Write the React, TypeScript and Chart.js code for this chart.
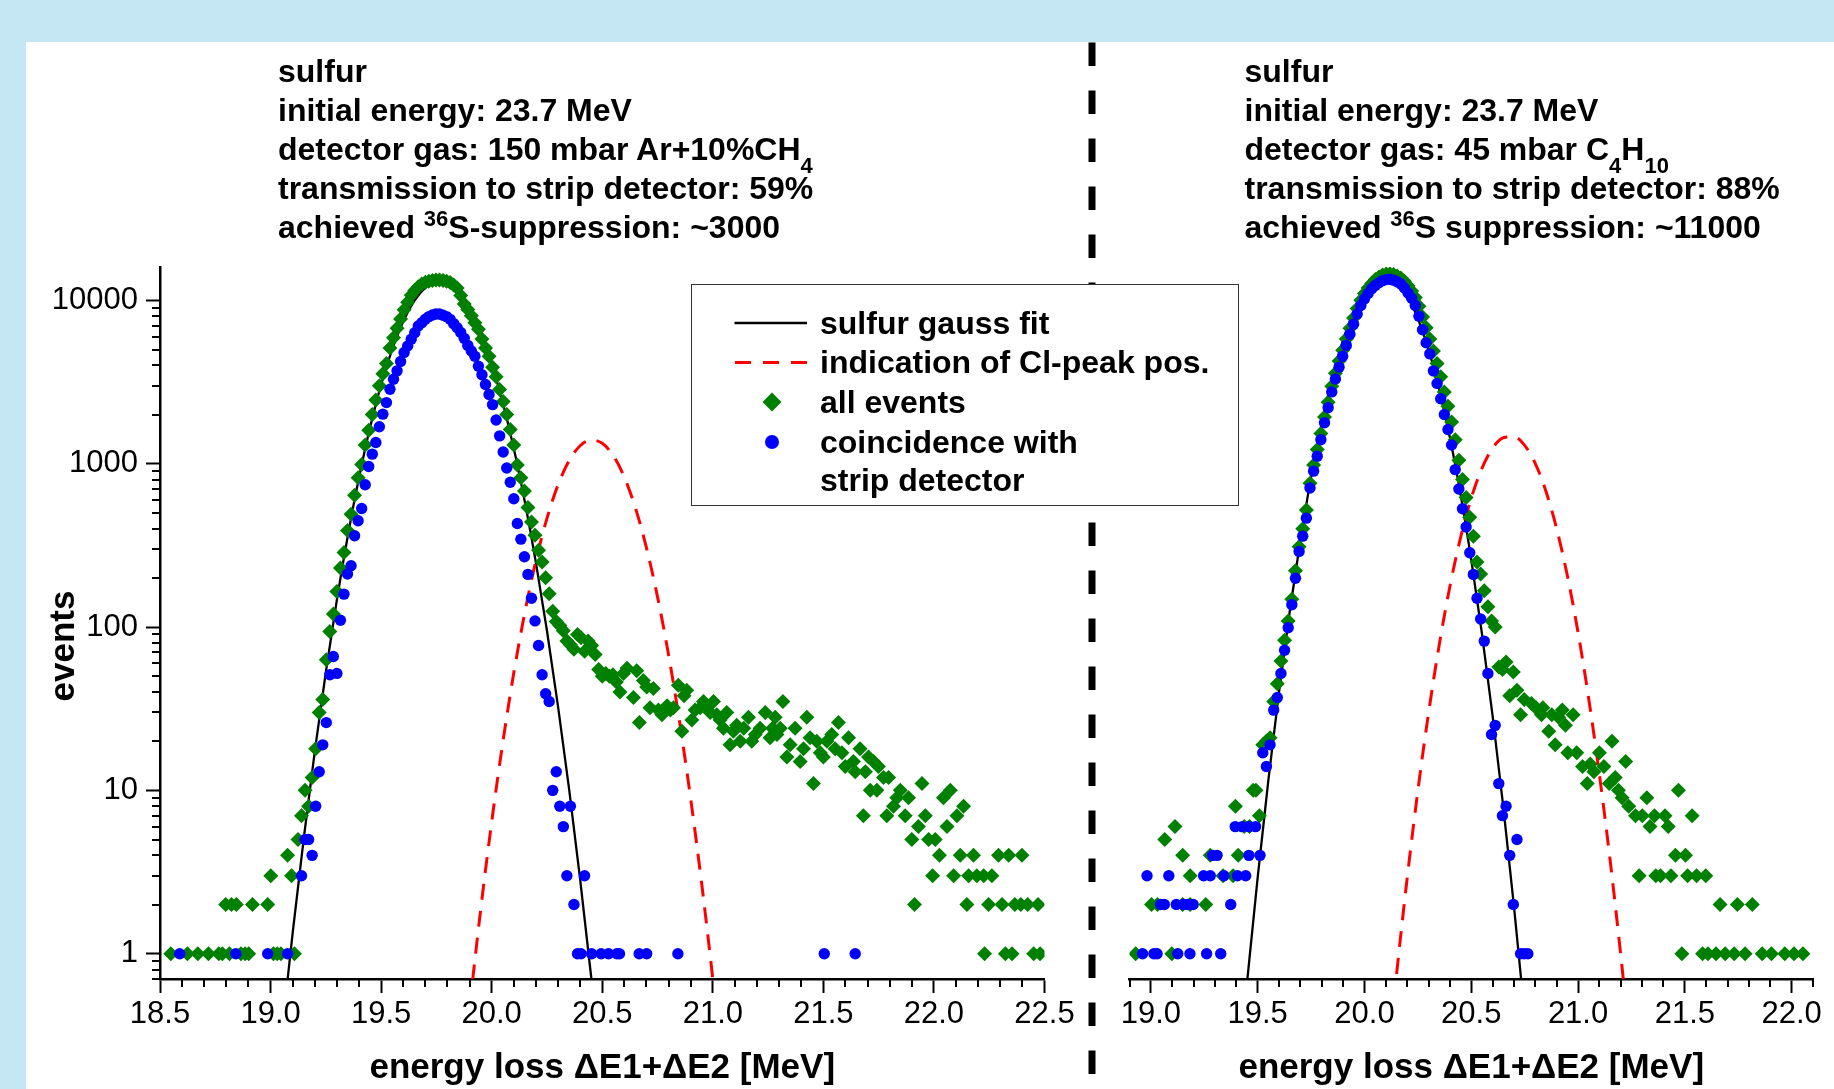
import React, { useEffect, useRef } from 'react';
import { Chart, registerables } from 'chart.js';

Chart.register(...registerables);

const FONT = '"Liberation Sans", Arial, Helvetica, sans-serif';
const GREEN = '#008000';
const BLUE = '#0000ff';
const RED = '#ff0000';

// ---------------- axes ----------------
const Y_MIN = 0.7;
const Y_MAX = 16000;
const Y_TICKS = [1, 10, 100, 1000, 10000];
const LEFT_X_RANGE = [18.5, 22.5];
const RIGHT_X_RANGE = [18.9, 22.1];
const X_MAJOR_STEP = 0.5;
const X_MINOR_STEP = 0.1;

// ---------------- LEFT panel (150 mbar Ar+10%CH4) ----------------
const LEFT_BIN_START = 19.108;
const LEFT_BIN = 0.016;
// all events, contiguous bins starting at LEFT_BIN_START
const leftAllPeak = [
  1, 5, 7, 10, 8, 12, 18, 30, 36, 63,
  94, 120, 165, 230, 286, 390, 490, 640, 820, 990,
  1300, 1600, 2000, 2450, 3000, 3550, 4100, 5100, 5900, 6750,
  7700, 8750, 9750, 10750, 11500, 12100, 12600, 12900, 13100, 13250,
  13300, 13300, 13250, 13100, 12850, 12400, 11900, 10700, 9500, 8800,
  8050, 7300, 6650, 5800, 5100, 4550, 3900, 3400, 2850, 2400,
  2000, 1620, 1300, 980, 820, 680, 540, 440, 365, 295,
  250, 200, 160, 125, 108, 102, 95, 82, 78, 73,
  90, 86, 71, 82, 77, 68, 55, 50, 52, 50,
  51, 46, 40, 52, 56,
];
const leftAllLow = [
  [18.549, 1], [18.624, 1], [18.671, 1], [18.719, 1], [18.766, 1], [18.782, 1], [18.814, 1],
  [18.866, 1], [18.885, 1], [18.901, 1], [19.013, 1], [19.030, 1], [19.047, 1],
  [18.797, 2], [18.823, 2], [18.845, 2], [18.918, 2], [18.987, 2],
  [19.001, 3], [19.095, 3], [19.077, 4],
];
const leftAllTail = [
  [20.641, 37], [20.656, 54], [20.668, 26], [20.686, 47], [20.701, 43], [20.716, 32], [20.731, 42],
  [20.754, 31], [20.770, 29], [20.793, 33], [20.808, 31], [20.822, 32], [20.844, 44], [20.860, 23],
  [20.870, 38], [20.882, 41], [20.905, 27], [20.920, 31], [20.943, 32], [20.958, 35], [20.973, 33],
  [20.988, 30], [21.003, 35], [21.018, 29], [21.033, 27], [21.048, 24], [21.063, 30], [21.078, 19],
  [21.093, 23], [21.108, 25], [21.124, 20], [21.140, 24], [21.161, 28], [21.176, 20], [21.192, 22],
  [21.214, 24], [21.237, 30], [21.259, 21], [21.270, 24], [21.282, 28], [21.290, 22], [21.305, 24],
  [21.317, 35], [21.335, 16], [21.350, 19], [21.372, 24], [21.395, 15], [21.410, 18], [21.425, 28],
  [21.440, 21], [21.455, 11], [21.470, 20], [21.486, 17], [21.500, 16], [21.516, 20], [21.538, 22],
  [21.553, 18], [21.568, 26], [21.584, 17], [21.599, 14], [21.614, 21], [21.636, 15], [21.644, 13],
  [21.666, 18], [21.681, 7], [21.690, 13], [21.704, 16], [21.712, 10], [21.727, 15], [21.742, 10],
  [21.749, 14], [21.772, 12], [21.787, 7], [21.795, 12], [21.817, 8], [21.832, 9], [21.848, 10],
  [21.870, 7], [21.885, 9], [21.900, 5], [21.912, 2], [21.930, 6], [21.946, 11], [21.961, 7],
  [21.976, 5], [21.994, 3], [22.006, 5], [22.025, 4], [22.043, 9], [22.059, 6], [22.074, 10],
  [22.089, 3], [22.104, 7], [22.119, 4], [22.134, 8], [22.149, 2], [22.157, 3], [22.179, 4],
  [22.194, 3], [22.225, 3], [22.229, 1], [22.247, 2], [22.262, 3], [22.292, 4], [22.308, 2],
  [22.323, 1], [22.338, 4], [22.353, 1], [22.366, 2], [22.393, 2], [22.398, 4], [22.424, 2],
  [22.451, 1], [22.471, 2], [22.480, 1],
];
// coincidence with strip detector
const leftCoincPeak = [
  0, 0, 3, 5, 5, 4, 8, 13, 19, 26,
  51, 66, 52, 110, 159, 211, 237, 362, 447, 532,
  743, 961, 1144, 1347, 1682, 2010, 2366, 2857, 3290, 3700,
  4220, 4790, 5260, 5780, 6340, 6970, 7300, 7660, 7950, 8140,
  8250, 8250, 8100, 7950, 7650, 7200, 6800, 6350, 5850, 5300,
  4900, 4550, 3950, 3500, 3050, 2650, 2300, 1850, 1480, 1180,
  940, 770, 610, 430, 345, 269, 210, 150, 109, 77,
  51, 39, 35, 10, 13, 8, 6, 3, 8, 2,
  1, 1, 3, 0, 1,
];
const leftCoincSparse = [
  [18.589, 1], [18.843, 1], [18.987, 1], [19.077, 1],
  [20.495, 1], [20.528, 1], [20.566, 1], [20.578, 1], [20.667, 1], [20.701, 1],
  [20.842, 1], [21.504, 1], [21.644, 1],
];
// sulfur gauss fit
const leftGaussFit = [
  [19.05, 0.32], [19.10, 1.34], [19.15, 5.06], [19.20, 17.3], [19.25, 53.0], [19.30, 147],
  [19.35, 366], [19.40, 822], [19.45, 1667], [19.50, 3048], [19.55, 5012], [19.60, 7430],
  [19.65, 9910], [19.70, 11940], [19.75, 12940], [19.80, 12650], [19.85, 11140], [19.90, 8850],
  [19.95, 6320], [20.00, 4070], [20.05, 2366], [20.10, 1239], [20.15, 583], [20.20, 248],
  [20.25, 94.8], [20.30, 32.7], [20.35, 10.2], [20.40, 2.85], [20.45, 0.72], [20.50, 0.164],
];
// indication of Cl-peak position
const leftClPeak = [
  [19.90, 0.47], [19.95, 1.85], [20.00, 6.41], [20.05, 19.5], [20.10, 52.4], [20.15, 123],
  [20.20, 255], [20.25, 463], [20.30, 741], [20.35, 1042], [20.40, 1288], [20.45, 1396],
  [20.50, 1334], [20.55, 1119], [20.60, 826], [20.65, 536], [20.70, 305], [20.75, 153],
  [20.80, 67.5], [20.85, 26.1], [20.90, 8.87], [20.95, 2.66], [21.00, 0.70], [21.05, 0.16],
];

// ---------------- RIGHT panel (45 mbar C4H10) ----------------
const RIGHT_BIN_START = 19.524;
const RIGHT_BIN = 0.017;
const rightAllPeak = [
  19, 20, 21, 35, 45, 62, 83, 109, 148, 221,
  310, 400, 520, 760, 980, 1220, 1530, 1930, 2380, 2980,
  3580, 4250, 4950, 5800, 6750, 7800, 8900, 10000, 11000, 11900,
  12700, 13400, 13900, 14300, 14500, 14550, 14400, 14100, 13700, 13100,
  12300, 11400, 10400, 9200, 7900, 6800, 5800, 4900, 4100, 3400,
  2750, 2250, 1800, 1400, 1050, 800, 620, 470, 360, 250,
  211, 167, 133, 109, 100, 57, 55, 61, 38, 53,
  41, 29, 36,
];
const rightAllLow = [
  [18.929, 1], [19.098, 1],
  [19.003, 2], [19.031, 2], [19.149, 2], [19.184, 2], [19.257, 2],
  [19.184, 3], [19.338, 3], [19.385, 3],
  [19.149, 4], [19.278, 4], [19.409, 4],
  [19.065, 5], [19.113, 6], [19.437, 6], [19.462, 6],
  [19.508, 7], [19.396, 8], [19.479, 10], [19.492, 10],
];
const rightAllTail = [
  [20.782, 34], [20.803, 32], [20.829, 29], [20.835, 32], [20.863, 23], [20.877, 29], [20.893, 19],
  [20.909, 28], [20.926, 31], [20.941, 25], [20.952, 17], [20.977, 29], [20.994, 17], [21.021, 14],
  [21.043, 11], [21.057, 14.5], [21.074, 13], [21.100, 17], [21.121, 14], [21.146, 11], [21.159, 20],
  [21.174, 12], [21.189, 10], [21.206, 9], [21.223, 15], [21.237, 8], [21.269, 7], [21.286, 3],
  [21.301, 7], [21.322, 9], [21.337, 6], [21.358, 7], [21.364, 3], [21.386, 3], [21.407, 7],
  [21.422, 6], [21.435, 3], [21.456, 4], [21.470, 10], [21.486, 1], [21.503, 4], [21.513, 3],
  [21.534, 7], [21.555, 3], [21.583, 1], [21.598, 3], [21.608, 1], [21.646, 1], [21.665, 2],
  [21.689, 1], [21.731, 1], [21.746, 2], [21.782, 1], [21.816, 2], [21.862, 1], [21.905, 1],
  [21.968, 1], [22.011, 1], [22.053, 1],
];
const rightCoincPeak = [
  17, 14, 19, 31, 37, 52, 72, 99, 137, 199,
  290, 360, 464, 710, 900, 1110, 1400, 1780, 2200, 2750,
  3300, 3900, 4550, 5300, 6200, 7150, 8250, 9300, 10200, 11000,
  11800, 12350, 12800, 13200, 13400, 13450, 13300, 13000, 12600, 11900,
  11100, 10300, 9300, 8000, 6600, 5500, 4700, 3700, 3100, 2500,
  2000, 1620, 1300, 920, 700, 530, 410, 285, 210, 150,
  112, 82, 52, 22, 25, 11, 7, 8, 4, 2,
  5, 1, 1, 1,
];
const rightCoincLow = [
  [18.961, 1], [19.014, 1], [19.029, 1], [19.126, 1], [19.183, 1], [19.261, 1], [19.327, 1],
  [19.046, 2], [19.063, 2], [19.119, 2], [19.152, 2], [19.173, 2], [19.198, 2], [19.374, 2],
  [18.982, 3], [19.084, 3], [19.247, 3], [19.278, 3], [19.342, 3], [19.405, 3], [19.444, 3],
  [19.289, 4], [19.310, 4], [19.459, 4], [19.511, 4],
  [19.395, 6], [19.427, 6], [19.459, 6], [19.490, 6],
];
const rightGaussFit = [
  [19.40, 0.13], [19.45, 0.66], [19.50, 2.92], [19.55, 11.5], [19.60, 40.0], [19.65, 124],
  [19.70, 339], [19.75, 822], [19.80, 1770], [19.85, 3373], [19.90, 5715], [19.95, 8551],
  [20.00, 11376], [20.05, 13397], [20.10, 13996], [20.15, 12974], [20.20, 10641], [20.25, 7727],
  [20.30, 4989], [20.35, 2851], [20.40, 1445], [20.45, 649], [20.50, 258], [20.55, 91.2],
  [20.60, 28.6], [20.65, 7.93], [20.70, 1.95], [20.75, 0.42], [20.80, 0.082],
];
const rightClPeak = [
  [20.10, 0.165], [20.15, 0.74], [20.20, 2.90], [20.25, 9.94], [20.30, 29.7], [20.35, 77.6],
  [20.40, 177], [20.45, 353], [20.50, 615], [20.55, 935], [20.60, 1245], [20.65, 1442],
  [20.70, 1462], [20.75, 1295], [20.80, 1002], [20.85, 676], [20.90, 399], [20.95, 206],
  [21.00, 92.7], [21.05, 36.4], [21.10, 12.5], [21.15, 3.75], [21.20, 0.98], [21.25, 0.225],
];

// ---------------- helpers ----------------
const fromBins = (start: number, step: number, vals: number[]) =>
  vals
    .map((v, i) => ({ x: +(start + i * step).toFixed(3), y: v > 0 ? v : null }))
    .filter((p) => p.y !== null);
const fromPairs = (pairs: number[][]) => pairs.map(([x, y]) => ({ x, y }));

const minorTicksPlugin = {
  id: 'minorTicks',
  afterDraw(chart: any, _args: any, opts: any) {
    const { ctx, chartArea: area } = chart;
    const xs = chart.scales.x;
    const ys = chart.scales.y;
    ctx.save();
    ctx.strokeStyle = '#000';
    ctx.lineWidth = 2;
    ctx.beginPath();
    const k0 = Math.ceil(xs.min / X_MINOR_STEP - 1e-6);
    const k1 = Math.floor(xs.max / X_MINOR_STEP + 1e-6);
    const ratio = Math.round(X_MAJOR_STEP / X_MINOR_STEP);
    for (let k = k0; k <= k1; k++) {
      if (k % ratio === 0) continue;
      const px = Math.round(xs.getPixelForValue(k * X_MINOR_STEP));
      ctx.moveTo(px, area.bottom);
      ctx.lineTo(px, area.bottom + 8);
    }
    if (opts && opts.yMinor) {
      for (let e = -1; e <= 4; e++) {
        for (let m = 2; m <= 9; m++) {
          const v = m * Math.pow(10, e);
          if (v <= ys.min || v >= ys.max) continue;
          const py = Math.round(ys.getPixelForValue(v));
          ctx.moveTo(area.left - 8, py);
          ctx.lineTo(area.left, py);
        }
      }
    }
    ctx.stroke();
    ctx.restore();
  },
};

function makeConfig(xRange: number[], showY: boolean, padding: any, sets: any) {
  return {
    type: 'scatter',
    data: {
      datasets: [
        {
          label: 'coincidence with strip detector',
          data: sets.blue,
          pointStyle: 'circle',
          pointRadius: 5.7,
          pointBackgroundColor: BLUE,
          backgroundColor: BLUE,
          pointBorderWidth: 0,
          borderWidth: 0,
          order: 1,
        },
        {
          label: 'all events',
          data: sets.green,
          pointStyle: 'rectRot',
          pointRadius: 7.5,
          pointBackgroundColor: GREEN,
          backgroundColor: GREEN,
          pointBorderWidth: 0,
          borderWidth: 0,
          order: 2,
        },
        {
          label: 'indication of Cl-peak pos.',
          data: sets.red,
          showLine: true,
          borderColor: RED,
          borderWidth: 3,
          borderDash: [16, 11],
          pointRadius: 0,
          cubicInterpolationMode: 'monotone',
          clip: 0,
          order: 3,
        },
        {
          label: 'sulfur gauss fit',
          data: sets.black,
          showLine: true,
          borderColor: '#000',
          borderWidth: 2.3,
          pointRadius: 0,
          cubicInterpolationMode: 'monotone',
          clip: 0,
          order: 4,
        },
      ],
    },
    options: {
      responsive: false,
      animation: false,
      devicePixelRatio: 1,
      events: [],
      layout: { padding },
      plugins: {
        legend: { display: false },
        tooltip: { enabled: false },
        minorTicks: { yMinor: showY },
      },
      scales: {
        x: {
          type: 'linear',
          position: 'bottom',
          min: xRange[0],
          max: xRange[1],
          afterFit: (s: any) => {
            s.height = 110;
          },
          ticks: {
            stepSize: X_MAJOR_STEP,
            includeBounds: false,
            autoSkip: false,
            maxRotation: 0,
            minRotation: 0,
            padding: 3,
            color: '#000',
            font: { family: FONT, size: 31 },
            callback: (v: any) => Number(v).toFixed(1),
          },
          grid: {
            drawOnChartArea: false,
            drawTicks: true,
            tickLength: 14,
            tickWidth: 2,
            tickColor: '#000',
          },
          border: { display: true, color: '#000', width: 2.5 },
          title: {
            display: true,
            text: 'energy loss \u0394E1+\u0394E2 [MeV]',
            color: '#000',
            font: { family: FONT, size: 35, weight: 'bold', lineHeight: 1.2 },
            padding: { top: 0, bottom: 0 },
          },
        },
        y: {
          type: 'logarithmic',
          position: 'left',
          display: showY,
          min: Y_MIN,
          max: Y_MAX,
          afterFit: (s: any) => {
            s.width = showY ? 160 : 0;
          },
          afterBuildTicks: (s: any) => {
            s.ticks = Y_TICKS.map((v) => ({ value: v, major: true }));
          },
          ticks: {
            autoSkip: false,
            padding: 8,
            color: '#000',
            font: { family: FONT, size: 31 },
            callback: (v: any) => String(Math.round(Number(v))),
          },
          grid: {
            drawOnChartArea: false,
            drawTicks: true,
            tickLength: 14,
            tickWidth: 2,
            tickColor: '#000',
          },
          border: { display: true, color: '#000', width: 2.5 },
        },
      },
    },
    plugins: [minorTicksPlugin],
  };
}

const textLine: React.CSSProperties = {
  height: 39,
  lineHeight: '39px',
  whiteSpace: 'nowrap',
};
const sup: React.CSSProperties = { fontSize: 22, position: 'relative', top: -12 };
const sub: React.CSSProperties = { fontSize: 22, position: 'relative', top: 13 };

function Annotation({ left, lines }: { left: number; lines: React.ReactNode[] }) {
  return (
    <div
      style={{
        position: 'absolute',
        left,
        top: 52,
        fontFamily: FONT,
        fontWeight: 'bold',
        fontSize: 32,
        color: '#000',
      }}
    >
      {lines.map((l, i) => (
        <div key={i} style={textLine}>
          {l}
        </div>
      ))}
    </div>
  );
}

const legendText: React.CSSProperties = {
  position: 'absolute',
  left: 128,
  fontFamily: FONT,
  fontWeight: 'bold',
  fontSize: 32,
  lineHeight: '32px',
  height: 32,
  whiteSpace: 'nowrap',
  color: '#000',
};

export default function App() {
  const leftRef = useRef<HTMLCanvasElement>(null);
  const rightRef = useRef<HTMLCanvasElement>(null);

  useEffect(() => {
    document.body.style.margin = '0';
    document.body.style.overflow = 'hidden';
    const leftSets = {
      blue: [...fromBins(LEFT_BIN_START, LEFT_BIN, leftCoincPeak), ...fromPairs(leftCoincSparse)],
      green: [
        ...fromPairs(leftAllLow),
        ...fromBins(LEFT_BIN_START, LEFT_BIN, leftAllPeak),
        ...fromPairs(leftAllTail),
      ],
      red: fromPairs(leftClPeak),
      black: fromPairs(leftGaussFit),
    };
    const rightSets = {
      blue: [...fromPairs(rightCoincLow), ...fromBins(RIGHT_BIN_START, RIGHT_BIN, rightCoincPeak)],
      green: [
        ...fromPairs(rightAllLow),
        ...fromBins(RIGHT_BIN_START, RIGHT_BIN, rightAllPeak),
        ...fromPairs(rightAllTail),
      ],
      red: fromPairs(rightClPeak),
      black: fromPairs(rightGaussFit),
    };
    const left = new Chart(
      leftRef.current as HTMLCanvasElement,
      makeConfig(LEFT_X_RANGE, true, { left: 0, right: 789.5, top: 267, bottom: 0 }, leftSets) as any
    );
    const right = new Chart(
      rightRef.current as HTMLCanvasElement,
      makeConfig(RIGHT_X_RANGE, false, { left: 1129.5, right: 21, top: 267, bottom: 0 }, rightSets) as any
    );
    return () => {
      left.destroy();
      right.destroy();
    };
  }, []);

  return (
    <div
      style={{
        position: 'absolute',
        left: 0,
        top: 0,
        width: 1834,
        height: 1089,
        overflow: 'hidden',
        background: '#c5e7f3',
        fontFamily: FONT,
      }}
    >
      <div style={{ position: 'absolute', left: 26, top: 42, width: 1808, height: 1047, background: '#fff' }} />
      <canvas ref={leftRef} width={1834} height={1089} style={{ position: 'absolute', left: 0, top: 0 }} />
      <canvas ref={rightRef} width={1834} height={1089} style={{ position: 'absolute', left: 0, top: 0 }} />
      <svg width={1834} height={1089} style={{ position: 'absolute', left: 0, top: 0, pointerEvents: 'none' }}>
        <line x1={1092} y1={42.5} x2={1092} y2={1089} stroke="#000" strokeWidth={7} strokeDasharray="23.5 24.5" />
      </svg>

      <div
        style={{
          position: 'absolute',
          left: 61,
          top: 646,
          transform: 'translate(-50%, -50%) rotate(-90deg)',
          fontFamily: FONT,
          fontWeight: 'bold',
          fontSize: 35,
          lineHeight: '35px',
          whiteSpace: 'nowrap',
          color: '#000',
        }}
      >
        events
      </div>

      <Annotation
        left={278}
        lines={[
          'sulfur',
          'initial energy: 23.7 MeV',
          <>
            detector gas: 150 mbar Ar+10%CH<span style={sub}>4</span>
          </>,
          'transmission to strip detector: 59%',
          <>
            achieved <span style={sup}>36</span>S-suppression: ~3000
          </>,
        ]}
      />
      <Annotation
        left={1244.5}
        lines={[
          'sulfur',
          'initial energy: 23.7 MeV',
          <>
            detector gas: 45 mbar C<span style={sub}>4</span>H<span style={sub}>10</span>
          </>,
          'transmission to strip detector: 88%',
          <>
            achieved <span style={sup}>36</span>S suppression: ~11000
          </>,
        ]}
      />

      <div
        style={{
          position: 'absolute',
          left: 691,
          top: 284,
          width: 548,
          height: 222,
          boxSizing: 'border-box',
          border: '1.5px solid #333',
          background: '#fff',
        }}
      >
        <svg width={130} height={220} style={{ position: 'absolute', left: -1.5, top: -1.5 }}>
          <line x1={43.5} y1={39} x2={116} y2={39} stroke="#000" strokeWidth={2.5} />
          <line x1={44} y1={78.6} x2={117} y2={78.6} stroke={RED} strokeWidth={3} strokeDasharray="16 12" />
          <polygon points="71.5,118 81,108.5 90.5,118 81,127.5" fill={GREEN} />
          <circle cx={81} cy={158} r={7} fill={BLUE} />
        </svg>
        <div style={{ ...legendText, top: 39 - 16 - 1.5 }}>sulfur gauss fit</div>
        <div style={{ ...legendText, top: 78.6 - 16 - 1.5 }}>indication of Cl-peak pos.</div>
        <div style={{ ...legendText, top: 118 - 16 - 1.5 }}>all events</div>
        <div style={{ ...legendText, top: 158 - 16 - 1.5 }}>coincidence with</div>
        <div style={{ ...legendText, top: 196.7 - 16 - 1.5 }}>strip detector</div>
      </div>
    </div>
  );
}
